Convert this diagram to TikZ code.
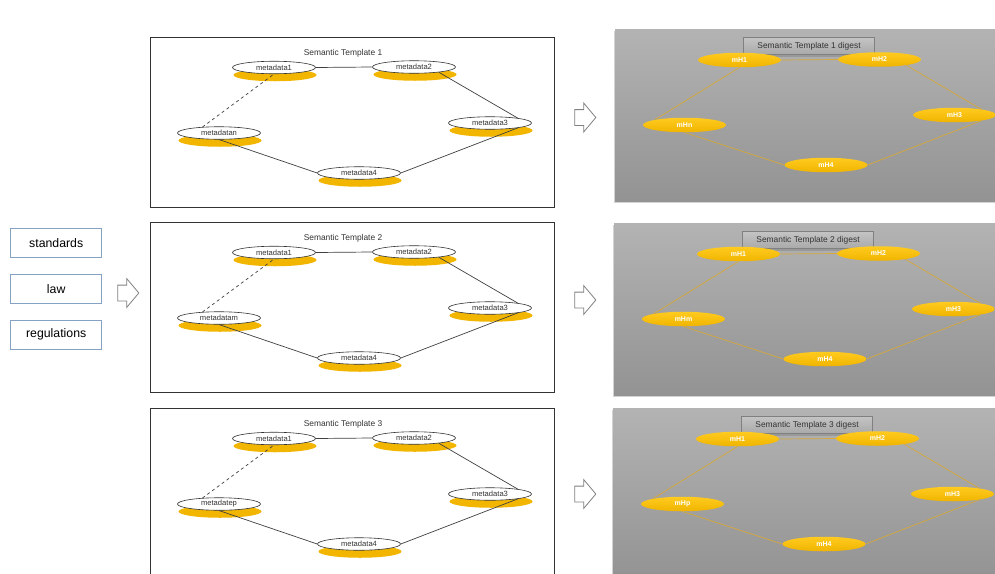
\documentclass[tikz,border=0pt]{standalone}
\usepackage{fontspec}
\setmainfont{Liberation Sans}
\usepackage{xcolor}
\definecolor{frameDark}{HTML}{333333}
\definecolor{lineDark}{HTML}{404040}
\definecolor{sourceBlue}{HTML}{86A2C2}
\definecolor{arrowGrey}{HTML}{808080}
\definecolor{metaGold}{HTML}{F2B600}
\definecolor{hashGoldTop}{HTML}{FFCB1F}
\definecolor{hashGoldBottom}{HTML}{F0B400}
\definecolor{hashLine}{HTML}{D6A93A}
\definecolor{digestTop}{HTML}{B3B3B3}
\definecolor{digestBottom}{HTML}{939393}
\definecolor{captionTop}{HTML}{C4C4C4}
\definecolor{captionBottom}{HTML}{A9A9A9}
\usepackage{tikz}
\usetikzlibrary{shapes,arrows,positioning,calc,arrows.meta,shapes.misc,shadows}
\tikzset{%
  sourceBox/.style={%
    rectangle,
    draw=sourceBlue,
    line width=0.8pt,
    fill=white,
    minimum width=91pt,
    minimum height=29pt,
    inner sep=0pt,
    font=\fontsize{12.3}{14}\selectfont
  },
  flowArrow/.style={%
    single arrow,
    draw=arrowGrey,
    fill=white,
    line width=0.8pt,
    inner xsep=0pt,
    inner ysep=7.5pt,
    single arrow head extend=6.5pt,
    single arrow tip angle=100,
    minimum height=21pt
  },
  templateFrame/.style={%
    draw=frameDark,
    line width=0.8pt,
    fill=white
  },
  templateTitle/.style={%
    font=\fontsize{8.4}{10}\selectfont,
    text=frameDark
  },
  metaNode/.style={%
    ellipse,
    draw=frameDark,
    line width=0.6pt,
    fill=white,
    minimum width=83pt,
    minimum height=12.5pt,
    inner sep=0pt,
    text=frameDark,
    font=\fontsize{7.6}{9}\selectfont,
    drop shadow={shadow xshift=1pt, shadow yshift=-7.5pt, fill=metaGold, opacity=1}
  },
  metaLine/.style={%
    draw=lineDark,
    line width=0.7pt
  },
  digestPanel/.style={%
    top color=digestTop,
    bottom color=digestBottom,
    draw=none,
    drop shadow={shadow xshift=-1pt, shadow yshift=-1.5pt, opacity=0.35}
  },
  digestCaption/.style={%
    rectangle,
    draw=arrowGrey,
    line width=0.5pt,
    top color=captionTop,
    bottom color=captionBottom,
    minimum width=131pt,
    minimum height=17pt,
    inner sep=0pt,
    text=frameDark,
    font=\fontsize{8.4}{10}\selectfont,
    drop shadow={shadow xshift=0pt, shadow yshift=-2pt, opacity=0.45}
  },
  hashNode/.style={%
    ellipse,
    top color=hashGoldTop,
    bottom color=hashGoldBottom,
    draw=none,
    minimum width=83pt,
    minimum height=14.5pt,
    inner sep=0pt,
    text=white,
    font=\bfseries\fontsize{7}{8}\selectfont
  },
  hashLink/.style={%
    draw=hashLine,
    line width=0.7pt
  }
}

\begin{document}
\begin{tikzpicture}[x=1pt, y=-1pt, node distance=16pt]
  \clip (0,0) rectangle (995,573);

  % sources on the left
  \node[sourceBox] (standards) at (56.2,242.8) {standards};
  \node[sourceBox, below=of standards] (law) {law};
  \node[sourceBox, below=of law] (regulations) {regulations};
  \node[flowArrow] (toTemplates) at (125,293) {};

  % one row per template: the template itself and its digest
  \foreach \i/\dy/\rx/\ry/\ay/\lastMeta/\lastHash in
      {1/0/615/29/117.5/metadatan/mHn,
       2/185/614/223/300/metadatam/mHm,
       3/371/613/408/494/metadatep/mHp}{
    \begin{scope}[shift={(0,\dy)}]
      \draw[templateFrame] (150,37) rectangle (554,207);
      \node[templateTitle] (title\i) at (343,53) {Semantic Template \i};

      \node[metaNode] (meta1-\i) at (274,67.5) {metadata1};
      \node[metaNode] (meta2-\i) at (414,67) {metadata2};
      \node[metaNode] (meta3-\i) at (490,123) {metadata3};
      \node[metaNode] (meta4-\i) at (359,173) {metadata4};
      \node[metaNode] (metaX-\i) at (219,133) {\lastMeta};

      \draw[metaLine] (meta1-\i.east) -- (meta2-\i.west);
      \draw[metaLine] (meta2-\i.-12) -- (meta3-\i.10);
      \draw[metaLine] (meta3-\i.-10) -- (meta4-\i.east);
      \draw[metaLine] (meta4-\i.west) -- (metaX-\i.south);
      \draw[metaLine, dashed] (metaX-\i.160) -- (meta1-\i.south);
    \end{scope}

    \node[flowArrow] (toDigest\i) at (582,\ay) {};

    \begin{scope}[shift={(\rx,\ry)}]
      \path[digestPanel] (0,0) rectangle (420,172);
      \node[digestCaption] (caption\i) at (194,17) {Semantic Template \i\ digest};

      \node[hashNode] (hash1-\i) at (124.5,31) {mH1};
      \node[hashNode] (hash2-\i) at (264.5,30.5) {mH2};
      \node[hashNode] (hash3-\i) at (339.5,86) {mH3};
      \node[hashNode] (hash4-\i) at (211,136) {mH4};
      \node[hashNode] (hashX-\i) at (69.5,96) {\lastHash};

      \draw[hashLink] (hash1-\i.east) -- (hash2-\i.west);
      \draw[hashLink] (hash2-\i.-12) -- (hash3-\i.12);
      \draw[hashLink] (hash3-\i.-12) -- (hash4-\i.east);
      \draw[hashLink] (hash4-\i.west) -- (hashX-\i.south);
      \draw[hashLink] (hashX-\i.170) -- (hash1-\i.south);
    \end{scope}
  }
\end{tikzpicture}
\end{document}
